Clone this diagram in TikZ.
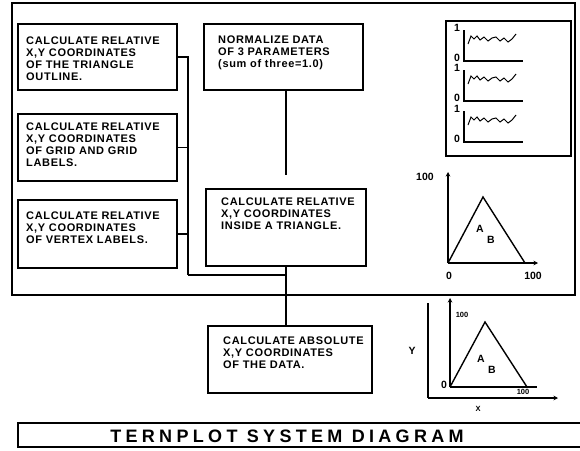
\documentclass[tikz,border=0pt]{standalone}
\usepackage{fontspec}
\setmainfont{Liberation Sans}
\usetikzlibrary{arrows.meta}
\newfontfamily\boxfont[LetterSpace=6]{Liberation Sans}
\newfontfamily\titlefont[LetterSpace=24]{Liberation Sans}
\begin{document}
\begin{tikzpicture}[x=1pt,y=-1pt,
  box/.style={draw, line width=1.8pt, anchor=north west, inner sep=0pt},
  txt/.style={anchor=north west, inner sep=0pt, align=left, font=\boxfont\bfseries\fontsize{11}{12}\selectfont},
  conn/.style={line width=1.8pt},
  lab/.style={inner sep=0pt, font=\bfseries\fontsize{10.5}{12}\selectfont},
  slab/.style={inner sep=0pt, font=\bfseries\fontsize{7.5}{8}\selectfont},
  axis/.style={line width=1.6pt},
  wig/.style={line width=1pt},
  ax/.style={line width=1.6pt, -{Stealth[length=4.5pt,width=4.5pt]}}]
\useasboundingbox (0,0) rectangle (580,450);
% outer frame
\draw[line width=2.2pt] (12,3) rectangle (575,295);
% left boxes
\node[box, minimum width=159pt, minimum height=66pt] (b1) at (17,23) {};
\node[txt] (t1) at (26,37) {CALCULATE RELATIVE\\X,Y COORDINATES\\OF THE TRIANGLE\\OUTLINE.};
\node[box, minimum width=159pt, minimum height=67pt] (b2) at (17,113) {};
\node[txt] (t2) at (26,123) {CALCULATE RELATIVE\\X,Y COORDINATES\\OF GRID AND GRID\\LABELS.};
\node[box, minimum width=159pt, minimum height=68pt] (b3) at (17,199) {};
\node[txt] (t3) at (26,212) {CALCULATE RELATIVE\\X,Y COORDINATES\\OF VERTEX LABELS.};
% middle boxes
\node[box, minimum width=159pt, minimum height=66pt] (nrm) at (203,23) {};
\node[txt] (tn) at (218,36) {NORMALIZE DATA\\OF 3 PARAMETERS\\(sum of three=1.0)};
\node[box, minimum width=160pt, minimum height=77pt] (mid) at (205,188) {};
\node[txt] (tm) at (221,198) {CALCULATE RELATIVE\\X,Y COORDINATES\\INSIDE A TRIANGLE.};
\node[box, minimum width=164pt, minimum height=67pt] (abs) at (207,325) {};
\node[txt] (ta) at (223,337) {CALCULATE ABSOLUTE\\X,Y COORDINATES\\OF THE DATA.};
% connectors
\coordinate (j) at (188,275);
\draw[conn] (b1.east) -| (j);
\draw[conn] (b2.east) -- (b2.east -| j);
\draw[conn] (b3.east) -- (b3.east -| j);
\draw[conn] (j) -- (j -| mid.south);
\draw[conn, shorten >=13pt] (nrm.south -| mid.north) -- (mid.north);
\draw[conn] (mid.south) -- (mid.south |- abs.north);
% chart box
\node[box, minimum width=125pt, minimum height=135pt] (cb) at (445,20) {};
\foreach \b/\n in {61/a,101/b,142/c}{
  \draw[axis] (464,\b-31) -- (464,\b) -- (523,\b);
  \node[lab] (one\n) at (457,\b-33) {1};
  \node[lab] (zero\n) at (457,\b-3) {0};
  \draw[wig] (468,\b-17) -- (471,\b-25) -- (474,\b-22) -- (477,\b-25) -- (480,\b-21)
     -- (484,\b-24) -- (488,\b-20) -- (492,\b-23) -- (496,\b-24) -- (500,\b-20)
     -- (504,\b-23) -- (508,\b-19) -- (512,\b-22) -- (516,\b-27);
}
% triangle chart 1
\draw[ax] (448,263) -- (448,172);
\draw[ax] (448,263) -- (538,263);
\draw[line width=1.4pt] (448,263) -- (483,197) -- (525,263);
\node[lab] (h1) at (425,177) {100};
\node[lab] (z1) at (449,276) {0};
\node[lab] (r1) at (533,276) {100};
\node[lab] (A1) at (480,229) {A};
\node[lab] (B1) at (491,240) {B};
% triangle chart 2
\draw[axis] (428,303) -- (428,398);
\draw[ax] (428,398) -- (558,398);
\draw[ax] (450,387) -- (450,298);
\draw[axis] (450,387) -- (537,387);
\draw[line width=1.4pt] (450,387) -- (485,322) -- (527,387);
\node[slab] (h2) at (462,315) {100};
\node[lab] (z2) at (444,385) {0};
\node[slab] (r2) at (523,392) {100};
\node[lab] (A2) at (481,359) {A};
\node[lab] (B2) at (492,370) {B};
\node[lab] (Y) at (412,351) {Y};
\node[slab] (X) at (478,409) {X};
% title
\draw[line width=1.4pt] (580,423) -- (18,423) -- (18,447) -- (580,447);
\node[inner sep=0pt, font=\titlefont\bfseries\fontsize{18}{20}\selectfont] (title) at (287,436.5) {TERNPLOT SYSTEM DIAGRAM};
\end{tikzpicture}
\end{document}
